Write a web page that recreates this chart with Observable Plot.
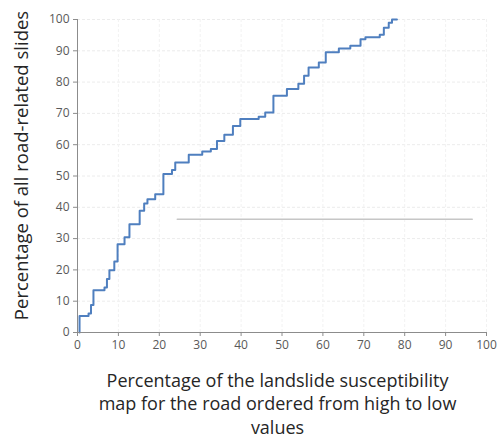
<!DOCTYPE html>
<html>
<head>
<meta charset="utf-8">
<script src="https://cdn.jsdelivr.net/npm/d3@7"></script>
<script src="https://cdn.jsdelivr.net/npm/@observablehq/plot@0.6"></script>
<style>
  html, body { margin: 0; padding: 0; background: #fff; }
  #chart svg { display: block; }
</style>
</head>
<body>
<div id="chart"></div>
<script>
// Step curve: percentage of map (x) where each step begins, and cumulative % of slides (y) after it
const mapPct = [0.5, 0.5, 2.7, 3.3, 3.9, 6.6, 7.2, 7.8, 9.0, 9.8, 11.5, 12.7, 15.2, 16.3, 17.1, 19.0,
  21.0, 23.1, 23.9, 27.2, 30.5, 32.6, 34.1, 35.9, 38.0, 39.8, 44.3, 45.9, 47.9, 51.2, 54.0, 55.4,
  56.5, 59.0, 60.7, 63.9, 66.7, 69.2, 70.4, 73.9, 74.9, 76.1, 76.9, 78.1];
const slidePct = [0, 5.3, 6.1, 8.8, 13.5, 14.4, 17.1, 19.9, 22.7, 28.2, 30.4, 34.6, 38.9, 41.2, 42.6, 44.2,
  50.6, 51.9, 54.3, 56.8, 57.8, 58.6, 61.2, 63.2, 66.0, 68.2, 68.9, 70.3, 75.6, 77.8, 79.5, 82.0,
  84.7, 86.3, 89.5, 90.7, 91.6, 93.7, 94.3, 95.1, 97.4, 99.0, 100, 100];

// Stray grey reference line in the figure
const greyLineX = [24.4, 96.5];
const greyLineY = [36.2, 36.2];

const xTicks = [0, 10, 20, 30, 40, 50, 60, 70, 80, 90, 100];
const yTicks = [0, 10, 20, 30, 40, 50, 60, 70, 80, 90, 100];

const xTitle = "Percentage of the landslide susceptibility\nmap for the road ordered from high to low\nvalues";
const yTitle = "Percentage of all road-related slides";

const curve = mapPct.map((x, i) => ({x, y: slidePct[i]}));
const grey = greyLineX.map((x, i) => ({x, y: greyLineY[i]}));

const font = "'Open Sans', 'Liberation Sans', sans-serif";

const chart = Plot.plot({
  width: 501,
  height: 441,
  marginLeft: 77,
  marginRight: 15,
  marginTop: 19,
  marginBottom: 109,
  style: {fontFamily: font, fontSize: "12px", color: "#595959", background: "#fff"},
  x: {domain: [0, 100], ticks: xTicks},
  y: {domain: [0, 100], ticks: yTicks},
  marks: [
    Plot.gridY(yTicks, {stroke: "#ececec", strokeOpacity: 1, strokeDasharray: "3,2"}),
    Plot.gridX(xTicks, {stroke: "#f2f2f2", strokeOpacity: 1, strokeDasharray: "3,2"}),
    Plot.line(grey, {x: "x", y: "y", stroke: "#c6c6c6", strokeWidth: 1.6}),
    Plot.line(curve, {x: "x", y: "y", curve: "step-after", stroke: "#4f7fbf", strokeWidth: 2}),
    Plot.ruleX([0], {stroke: "#8c8c8c", strokeWidth: 1}),
    Plot.ruleY([0], {stroke: "#8c8c8c", strokeWidth: 1}),
    Plot.axisX(xTicks, {tickSize: 4, tickPadding: 4, stroke: "#8c8c8c", fill: "#595959", label: null, fontSize: 12}),
    Plot.axisY(yTicks, {tickSize: 4, tickPadding: 4, stroke: "#8c8c8c", fill: "#595959", label: null, fontSize: 12}),
    Plot.text([xTitle], {frameAnchor: "bottom", dy: 37, lineAnchor: "top", lineHeight: 1.33,
      fontSize: 18, fill: "#262626", textAnchor: "middle", dx: -4.5}),
    Plot.text([yTitle], {frameAnchor: "left", rotate: -90, dx: -55, dy: -10.5, textAnchor: "middle",
      lineAnchor: "middle", fontSize: 18.5, fill: "#262626"})
  ]
});

document.getElementById("chart").appendChild(chart);
</script>
</body>
</html>
